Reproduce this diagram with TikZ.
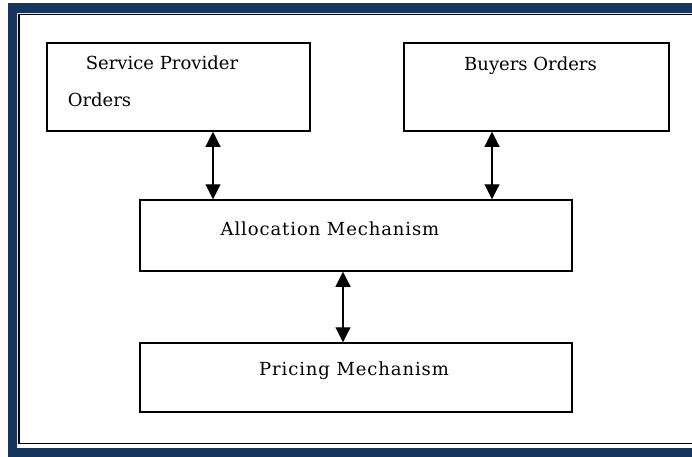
\documentclass[tikz,border=0pt]{standalone}
\usepackage{fontspec}
\setmainfont{DejaVu Serif}
\usetikzlibrary{arrows.meta}
\definecolor{frameblue}{HTML}{17365D}
\tikzset{
  box/.style={draw=black, line width=1.5pt, rectangle, inner sep=0pt},
  lbl/.style={anchor=base, inner sep=0pt, font=\fontsize{18}{21}\selectfont},
  wide/.style={font=\fontsize{18}{21}\selectfont\addfontfeature{LetterSpace=5}},
  dbl/.style={line width=1.1pt, {Triangle[width=15pt,length=15pt]}-{Triangle[width=15pt,length=15pt]}}
}
\begin{document}
\begin{tikzpicture}[x=1pt,y=-1pt]
\useasboundingbox (0,0) rectangle (692,456);
% outer frame (blue band and inner line), open at the right edge
\fill[frameblue, even odd rule] (8,3) rectangle (720,470) (17,13) rectangle (720,448);
\draw[black, line width=1.8pt] (19,14.5) rectangle (720,443.5);
% boxes
\node[box, minimum width=263pt, minimum height=88pt] (sp) at (178.5,87) {};
\node[box, minimum width=265pt, minimum height=88pt] (buy) at (536.5,87) {};
\node[box, minimum width=432pt, minimum height=71pt] (alloc) at (356,235.5) {};
\node[box, minimum width=432pt, minimum height=69pt] (price) at (356,377.5) {};
% texts
\node[lbl] (t1) at (162,69) {Service Provider};
\node[lbl] (t2) at (99.5,106) {Orders};
\node[lbl] (t3) at (530.5,70.5) {Buyers Orders};
\node[lbl, wide] (t4) at (330,235) {Allocation Mechanism};
\node[lbl, wide] (t5) at (354,375) {Pricing Mechanism};
% connectors
\coordinate (c1) at (213,0);
\coordinate (c2) at (492,0);
\coordinate (c3) at (343,0);
\draw[dbl] (sp.south -| c1) -- (alloc.north -| c1);
\draw[dbl] (buy.south -| c2) -- (alloc.north -| c2);
\draw[dbl] (alloc.south -| c3) -- (price.north -| c3);
\end{tikzpicture}
\end{document}
